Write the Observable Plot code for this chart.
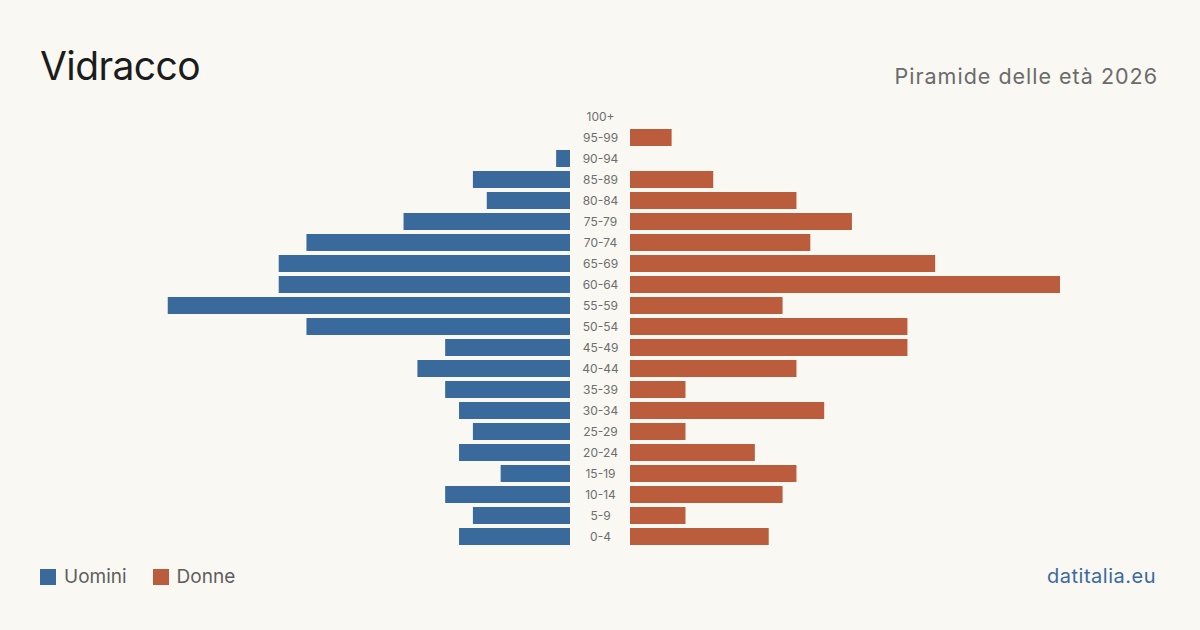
<!DOCTYPE html>
<html lang="it">
<head>
<meta charset="utf-8">
<script src="https://cdn.jsdelivr.net/npm/d3@7"></script>
<script src="https://cdn.jsdelivr.net/npm/@observablehq/plot@0.6"></script>
<style>
  html, body { margin: 0; padding: 0; background: #f9f8f3; }
  #page { position: relative; width: 1200px; height: 630px; background: #f9f8f3; font-family: Inter, "Noto Sans", sans-serif; overflow: hidden; }
  #title { position: absolute; left: 40px; top: 41px; font-size: 39px; color: #1c1c1c; letter-spacing: -0.6px; line-height: 50px; }
  #subtitle { position: absolute; right: 42px; top: 62px; font-size: 21.5px; color: #6b6b6b; line-height: 28px; letter-spacing: 1px; }
  .panel { position: absolute; top: 106px; }
  #left { left: 140px; }
  #mid { left: 570px; }
  #right { left: 630px; }
  #legend { position: absolute; left: 40px; top: 565px; display: flex; align-items: center; font-size: 19px; color: #5e5e5e; }
  .sw { width: 16px; height: 16px; display: inline-block; margin-right: 8px; }
  .item { display: flex; align-items: center; margin-right: 26px; }
  #source { position: absolute; right: 44px; top: 564px; font-size: 20px; color: #3a6a9e; letter-spacing: 0.5px; }
</style>
</head>
<body>
<div id="page">
  <div id="title">Vidracco</div>
  <div id="subtitle">Piramide delle età 2026</div>
  <div id="left" class="panel"></div>
  <div id="mid" class="panel"></div>
  <div id="right" class="panel"></div>
  <div id="legend"></div>
  <div id="source">datitalia.eu</div>
</div>
<script>
// Classi d'età, dalla più anziana alla più giovane
const ages = ["100+", "95-99", "90-94", "85-89", "80-84", "75-79", "70-74", "65-69", "60-64", "55-59",
  "50-54", "45-49", "40-44", "35-39", "30-34", "25-29", "20-24", "15-19", "10-14", "5-9", "0-4"];
// Residenti per classe d'età
const uomini = [0, 0, 1, 7, 6, 12, 19, 21, 21, 29, 19, 9, 11, 9, 8, 7, 8, 5, 9, 7, 8];
const donne  = [0, 3, 0, 6, 12, 16, 13, 22, 31, 11, 20, 20, 12, 4, 14, 4, 9, 12, 11, 4, 10];
const seriesNames = ["Uomini", "Donne"];
const seriesColors = ["#3a6a9c", "#bb5d3d"];

const rows = ages.map((age, i) => ({age, uomini: uomini[i], donne: donne[i]}));
const maxVal = d3.max([...uomini, ...donne]);

const H = 441;
const common = {
  height: H,
  margin: 0,
  style: {background: "transparent"},
  y: {type: "band", domain: ages, padding: 0, axis: null}
};

// Lato sinistro: uomini, asse x invertito
document.getElementById("left").append(Plot.plot({
  ...common,
  width: 430,
  x: {domain: [0, maxVal], reverse: true, axis: null},
  marks: [
    Plot.barX(rows, {x: "uomini", y: "age", fill: seriesColors[0], insetTop: 2, insetBottom: 2})
  ]
}));

// Colonna centrale con le etichette delle classi
document.getElementById("mid").append(Plot.plot({
  ...common,
  width: 60,
  x: {axis: null},
  marks: [
    Plot.text(rows, {y: "age", text: "age", frameAnchor: "middle", fill: "#6e6e6e", fontSize: 12, fontFamily: "Inter, sans-serif"})
  ]
}));

// Lato destro: donne
document.getElementById("right").append(Plot.plot({
  ...common,
  width: 430,
  x: {domain: [0, maxVal], axis: null},
  marks: [
    Plot.barX(rows, {x: "donne", y: "age", fill: seriesColors[1], insetTop: 2, insetBottom: 2})
  ]
}));

// Legenda
const legend = document.getElementById("legend");
seriesNames.forEach((name, i) => {
  const item = document.createElement("div");
  item.className = "item";
  item.innerHTML = `<span class="sw" style="background:${seriesColors[i]}"></span>${name}`;
  legend.append(item);
});
</script>
</body>
</html>
